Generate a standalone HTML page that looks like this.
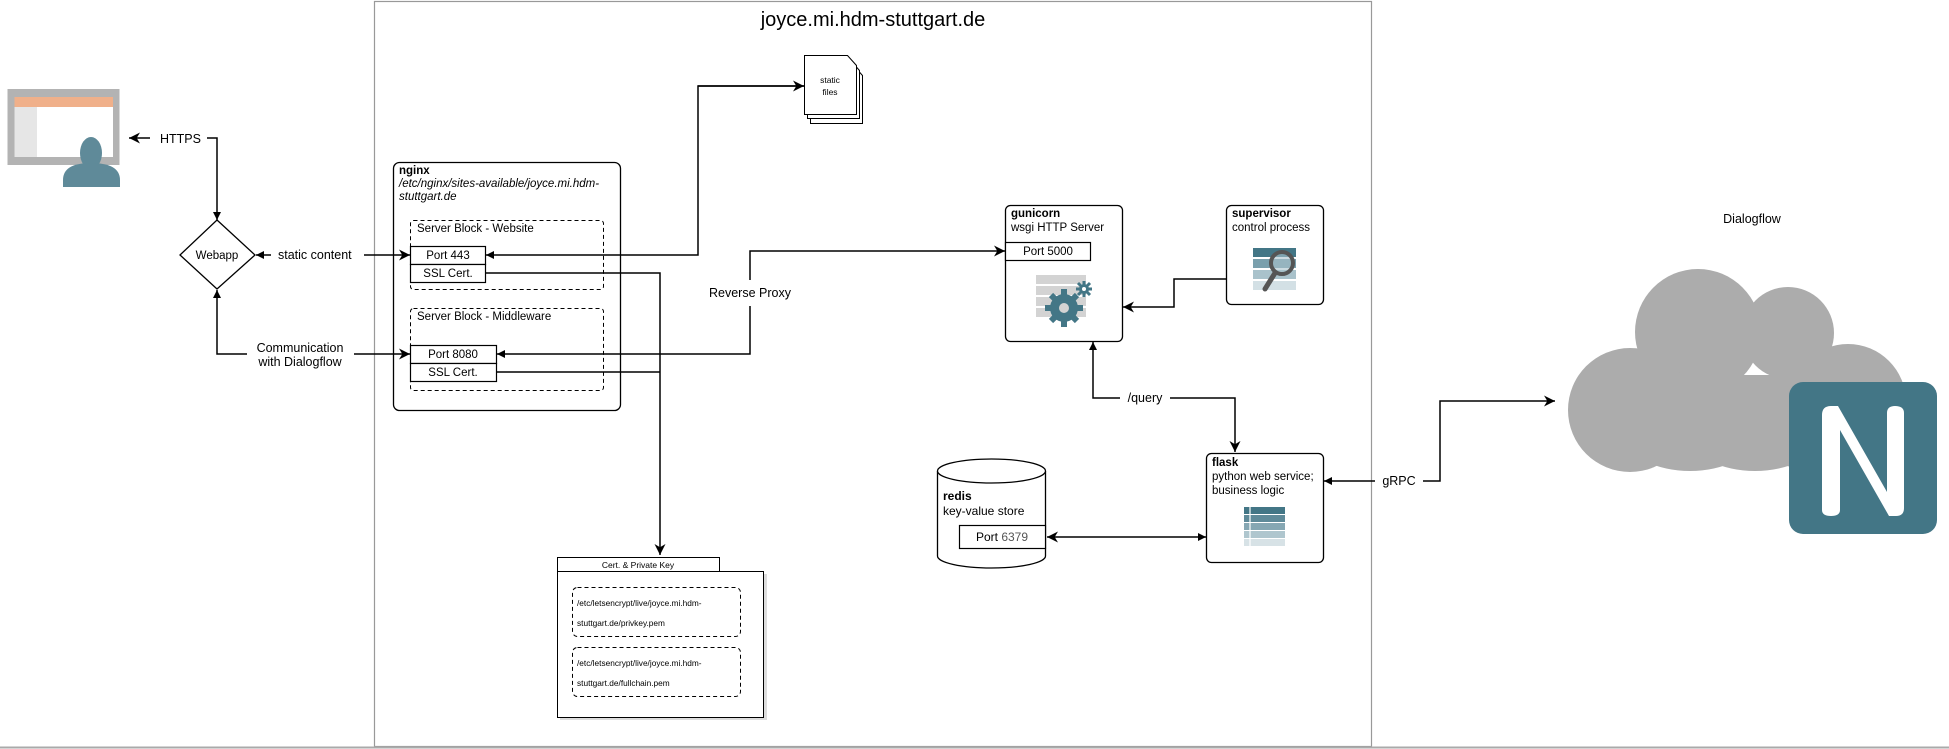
<!DOCTYPE html>
<html><head><meta charset="utf-8"><style>
html,body{margin:0;padding:0;background:#fff}
svg{display:block;font-family:"Liberation Sans",Arial,sans-serif}
</style></head><body>
<svg width="1949" height="749" viewBox="0 0 1949 749" xmlns="http://www.w3.org/2000/svg">
<defs>
<marker id="blk" viewBox="0 0 10 10" refX="10" refY="5" markerWidth="8" markerHeight="8" orient="auto" markerUnits="userSpaceOnUse"><path d="M0,0 L10,5 L0,10 z" fill="#000"/></marker>
<marker id="opn" viewBox="0 0 10 10" refX="10" refY="5" markerWidth="11" markerHeight="11" orient="auto" markerUnits="userSpaceOnUse"><path d="M0,0 L10,5 L0,10 L3,5 z" fill="#000"/></marker>
</defs>
<rect x="374.5" y="1.5" width="997" height="745" fill="none" stroke="#999" stroke-width="1.2"/>
<line x1="0" y1="747.5" x2="1949" y2="747.5" stroke="#aaa" stroke-width="2"/>
<text x="873" y="26" font-size="20" text-anchor="middle">joyce.mi.hdm-stuttgart.de</text>

<rect x="7.5" y="89" width="112" height="76" fill="#b3b3b3"/>
<rect x="14.5" y="97" width="98.5" height="60" fill="#fff"/>
<rect x="14.5" y="97" width="98.5" height="10" fill="#f0b08a"/>
<rect x="14.5" y="107" width="22.5" height="50" fill="#e6e6e6"/>
<ellipse cx="91" cy="153" rx="11" ry="16" fill="#5f8a99"/>
<path d="M63,187 L63,180 Q63,163 91,163 Q120,163 120,180 L120,187 z" fill="#5f8a99"/>

<g stroke="#000" stroke-width="1.5" fill="none">
<line x1="150" y1="138" x2="129" y2="138" marker-end="url(#opn)"/>
<polyline points="207,138 217,138 217,220" marker-end="url(#blk)"/>
<line x1="271" y1="255" x2="256" y2="255" marker-end="url(#blk)"/>
<line x1="364" y1="255" x2="410" y2="255" marker-end="url(#opn)"/>
<polyline points="247,354 217,354 217,290" marker-end="url(#blk)"/>
<line x1="354" y1="354" x2="410" y2="354" marker-end="url(#opn)"/>
<polyline points="804,86 698,86 698,255 486,255" marker-end="url(#blk)"/>
<line x1="698" y1="86" x2="804" y2="86" marker-end="url(#opn)"/>
<polyline points="485,273 660,273 660,555" marker-end="url(#opn)"/>
<polyline points="496,372 660,372"/>
<polyline points="750,280 750,251 1005,251" marker-end="url(#opn)"/>
<polyline points="750,306 750,354 497,354" marker-end="url(#blk)"/>
<polyline points="1226,279 1174,279 1174,307 1123,307" marker-end="url(#opn)"/>
<polyline points="1120,398 1093,398 1093,342" marker-end="url(#blk)"/>
<polyline points="1170,398 1235,398 1235,452" marker-end="url(#opn)"/>
<line x1="1110" y1="537" x2="1047" y2="537" marker-end="url(#opn)"/>
<line x1="1110" y1="537" x2="1206" y2="537" marker-end="url(#blk)"/>
<line x1="1375" y1="481" x2="1324" y2="481" marker-end="url(#blk)"/>
<polyline points="1423,481 1440,481 1440,401 1555,401" marker-end="url(#opn)"/>
</g>
<g font-size="12.5" fill="#000">
<rect x="155" y="130" width="50" height="16" fill="#fff"/>
<text x="160" y="143">HTTPS</text>
<text x="278" y="259">static content</text>
<text x="300" y="352" text-anchor="middle">Communication</text>
<text x="300" y="366" text-anchor="middle">with Dialogflow</text>
<text x="750" y="297" text-anchor="middle">Reverse Proxy</text>
<text x="1145" y="402" text-anchor="middle">/query</text>
<text x="1399" y="485" text-anchor="middle">gRPC</text>
</g>

<polygon points="217,220 255,255 217,289 180,255" fill="#fff" stroke="#000" stroke-width="1.3"/>
<text x="217" y="259" font-size="11.5" text-anchor="middle">Webapp</text>

<rect x="393.5" y="162.5" width="227" height="248" rx="6" fill="none" stroke="#000" stroke-width="1.3"/>
<text x="399" y="174" font-size="11.5" font-weight="bold">nginx</text>
<text x="399" y="187" font-size="11.5" font-style="italic">/etc/nginx/sites-available/joyce.mi.hdm-</text>
<text x="399" y="200" font-size="11.5" font-style="italic">stuttgart.de</text>
<rect x="410.5" y="220.5" width="193" height="69" rx="3" fill="none" stroke="#000" stroke-dasharray="4,3"/>
<text x="417" y="232" font-size="11.5">Server Block - Website</text>
<rect x="410.5" y="308.5" width="193" height="82" rx="3" fill="none" stroke="#000" stroke-dasharray="4,3"/>
<text x="417" y="320" font-size="11.5">Server Block - Middleware</text>
<g fill="#fff" stroke="#000" stroke-width="1.2">
<rect x="410.5" y="246.5" width="75" height="18"/><rect x="410.5" y="264.5" width="75" height="18"/>
<rect x="410.5" y="345.5" width="86" height="18"/><rect x="410.5" y="363.5" width="86" height="18"/>
</g>
<g font-size="11.5" text-anchor="middle">
<text x="448" y="259">Port 443</text><text x="448" y="277">SSL Cert.</text>
<text x="453" y="358">Port 8080</text><text x="453" y="376">SSL Cert.</text>
</g>

<g fill="#fff" stroke="#000" stroke-width="1">
<path d="M810.5,66.5 h44 l8,9 v48 h-52 z"/>
<path d="M807.5,61.5 h44 l8,9 v48 h-52 z"/>
<path d="M804.5,55.5 h43 l9,10 v49 h-52 z"/>
</g>
<text x="830" y="83" font-size="8.5" text-anchor="middle">static</text>
<text x="830" y="95" font-size="8.5" text-anchor="middle">files</text>

<rect x="560" y="574" width="207" height="146" fill="#ddd"/>
<rect x="557.5" y="557.5" width="162" height="14" fill="#fff" stroke="#000"/>
<text x="638" y="568" font-size="8.5" text-anchor="middle">Cert. &amp; Private Key</text>
<rect x="557.5" y="571.5" width="206" height="146" fill="#fff" stroke="#000"/>
<rect x="572.5" y="587.5" width="168" height="49" rx="5" fill="none" stroke="#000" stroke-dasharray="4,3"/>
<rect x="572.5" y="647.5" width="168" height="49" rx="5" fill="none" stroke="#000" stroke-dasharray="4,3"/>
<g font-size="8.3">
<text x="577" y="606">/etc/letsencrypt/live/joyce.mi.hdm-</text>
<text x="577" y="626">stuttgart.de/privkey.pem</text>
<text x="577" y="666">/etc/letsencrypt/live/joyce.mi.hdm-</text>
<text x="577" y="686">stuttgart.de/fullchain.pem</text>
</g>

<rect x="1005.5" y="205.5" width="117" height="136" rx="5" fill="#fff" stroke="#000" stroke-width="1.3"/>
<text x="1011" y="217" font-size="11.5" font-weight="bold">gunicorn</text>
<text x="1011" y="231" font-size="11.5">wsgi HTTP Server</text>
<rect x="1005.5" y="242.5" width="85" height="18" fill="#fff" stroke="#000" stroke-width="1.2"/>
<text x="1048" y="255" font-size="11.5" text-anchor="middle">Port 5000</text>
<g fill="#d3d3d3">
<rect x="1036" y="275" width="50" height="9"/><rect x="1036" y="286" width="50" height="9"/>
<rect x="1036" y="297" width="50" height="9"/><rect x="1036" y="308" width="50" height="9"/>
</g>
<g fill="#437686">
<circle cx="1064" cy="308" r="14"/>
<g stroke="#437686" stroke-width="6">
<line x1="1064" y1="289" x2="1064" y2="327"/><line x1="1045" y1="308" x2="1083" y2="308"/>
<line x1="1051" y1="295" x2="1077" y2="321"/><line x1="1077" y1="295" x2="1051" y2="321"/>
</g>
<circle cx="1084" cy="289" r="5"/>
<g stroke="#437686" stroke-width="3"><line x1="1084" y1="281" x2="1084" y2="297"/><line x1="1076" y1="289" x2="1092" y2="289"/><line x1="1078" y1="283" x2="1090" y2="295"/><line x1="1090" y1="283" x2="1078" y2="295"/></g>
</g>
<circle cx="1064" cy="308" r="5" fill="#d3d3d3"/>
<circle cx="1084" cy="289" r="2" fill="#fff"/>

<rect x="1226.5" y="205.5" width="97" height="99" rx="5" fill="#fff" stroke="#000" stroke-width="1.3"/>
<text x="1232" y="217" font-size="11.5" font-weight="bold">supervisor</text>
<text x="1232" y="231" font-size="11.5">control process</text>
<g>
<rect x="1253" y="248" width="43" height="9" fill="#437686"/>
<rect x="1253" y="259" width="43" height="9" fill="#7aa0ad"/>
<rect x="1253" y="270" width="43" height="9" fill="#a9c2cb"/>
<rect x="1253" y="281" width="43" height="9" fill="#d3e0e5"/>
<circle cx="1282" cy="263" r="11" fill="#a9c2cb" fill-opacity="0.6" stroke="#555" stroke-width="4"/>
<line x1="1275" y1="273" x2="1265" y2="289" stroke="#555" stroke-width="5" stroke-linecap="round"/>
</g>

<path d="M937.5,471 v85 a54,12 0 0 0 108,0 v-85" fill="#fff" stroke="#000" stroke-width="1.3"/>
<ellipse cx="991.5" cy="471" rx="54" ry="12" fill="#fff" stroke="#000" stroke-width="1.3"/>
<text x="943" y="500" font-size="12" font-weight="bold">redis</text>
<text x="943" y="515" font-size="12">key-value store</text>
<rect x="959.5" y="525.5" width="86" height="23" fill="#fff" stroke="#000" stroke-width="1.2"/>
<text x="1002" y="541" font-size="12" text-anchor="middle">Port <tspan fill="#555">6379</tspan></text>

<rect x="1206.5" y="453.5" width="117" height="109" rx="5" fill="#fff" stroke="#000" stroke-width="1.3"/>
<text x="1212" y="466" font-size="11.5" font-weight="bold">flask</text>
<text x="1212" y="480" font-size="11.5">python web service;</text>
<text x="1212" y="494" font-size="11.5">business logic</text>
<g>
<rect x="1244" y="507" width="41" height="7" fill="#437686"/>
<rect x="1244" y="515" width="41" height="7" fill="#5f8a99"/>
<rect x="1244" y="523" width="41" height="7" fill="#86a7b3"/>
<rect x="1244" y="531" width="41" height="7" fill="#afc6ce"/>
<rect x="1244" y="539" width="41" height="7" fill="#d7e2e6"/>
<g stroke="#fff" stroke-width="1.2"><line x1="1250" y1="507" x2="1250" y2="546"/></g>
</g>

<text x="1752" y="223" font-size="12.5" text-anchor="middle">Dialogflow</text>
<g fill="#acacac">
<circle cx="1698" cy="332" r="63"/>
<circle cx="1788" cy="333" r="46"/>
<circle cx="1630" cy="410" r="62"/>
<circle cx="1848" cy="402" r="58"/>
<ellipse cx="1690" cy="438" rx="62" ry="33"/>
<ellipse cx="1755" cy="438" rx="62" ry="33"/>
<ellipse cx="1805" cy="432" rx="55" ry="36"/>
<rect x="1640" y="375" width="215" height="60"/>
</g>
<rect x="1789" y="382" width="148" height="152" rx="14" fill="#437686"/>
<path d="M1822,510 V415 Q1822,406 1831,406 H1838 L1887,492 V413 Q1887,406 1895,406 Q1904,406 1904,413 V508 Q1904,516 1896,516 H1889 L1840,430 V510 Q1840,516 1831,516 Q1822,516 1822,510 z" fill="#fff"/>
</svg>
</body></html>
